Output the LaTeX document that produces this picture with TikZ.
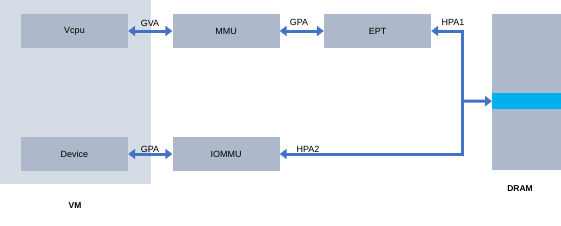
\documentclass[tikz,border=0pt]{standalone}
\usepackage{fontspec}
\setmainfont{Liberation Sans}
\usetikzlibrary{arrows.meta}
\definecolor{boxgray}{RGB}{173,184,202}
\definecolor{vmbg}{RGB}{214,220,229}
\definecolor{arrblue}{RGB}{68,114,196}
\definecolor{cyanband}{RGB}{0,176,240}
\begin{document}
\begin{tikzpicture}[x=1pt,y=-1pt,
  blk/.style={fill=boxgray,draw=none,minimum width=107pt,minimum height=34pt,inner sep=0pt,font=\fontsize{9}{10}\selectfont},
  arr/.style={draw=arrblue,line width=3pt,-{Triangle[width=10pt,length=7pt]}},
  barr/.style={draw=arrblue,line width=3pt,{Triangle[width=10pt,length=7pt]}-{Triangle[width=10pt,length=7pt]}},
  lbl/.style={inner sep=0pt,font=\fontsize{9}{10}\selectfont},
  ttl/.style={inner sep=0pt,font=\fontsize{8.5}{10}\selectfont\bfseries}]
\useasboundingbox (0,0) rectangle (561,225);
\fill[vmbg] (0,0) rectangle (151,184);
\node[blk] (vcpu) at (74.5,31) {Vcpu};
\node[blk] (mmu) at (226,31) {MMU};
\node[blk] (ept) at (377.5,31) {EPT};
\node[blk] (device) at (74.5,154) {Device};
\node[blk] (iommu) at (226,154) {IOMMU};
\node[fill=boxgray,minimum width=69pt,minimum height=156pt,inner sep=0pt,anchor=north west] (dram) at (492,14) {};
\node[fill=cyanband,minimum width=69pt,minimum height=16pt,inner sep=0pt,anchor=north west] (band) at (492,93) {};
\node[ttl] (vmlbl) at (75,206) {VM};
\node[ttl] (dramlbl) at (520,189) {DRAM};
\draw[barr] (vcpu.east) -- (mmu.west);
\draw[barr] (mmu.east) -- (ept.west);
\draw[barr] (device.east) -- (iommu.west);
\coordinate (j) at (462,101);
\draw[arr] (j) |- (ept.east);
\draw[arr] (j) |- (iommu.east);
\draw[arr] (j) -- (band.west);
\node[lbl] (gva) at (150,23) {GVA};
\node[lbl] (gpa1) at (299,22) {GPA};
\node[lbl] (hpa1) at (453,22) {HPA1};
\node[lbl] (gpa2) at (150,149) {GPA};
\node[lbl] (hpa2) at (308,149) {HPA2};
\end{tikzpicture}
\end{document}
